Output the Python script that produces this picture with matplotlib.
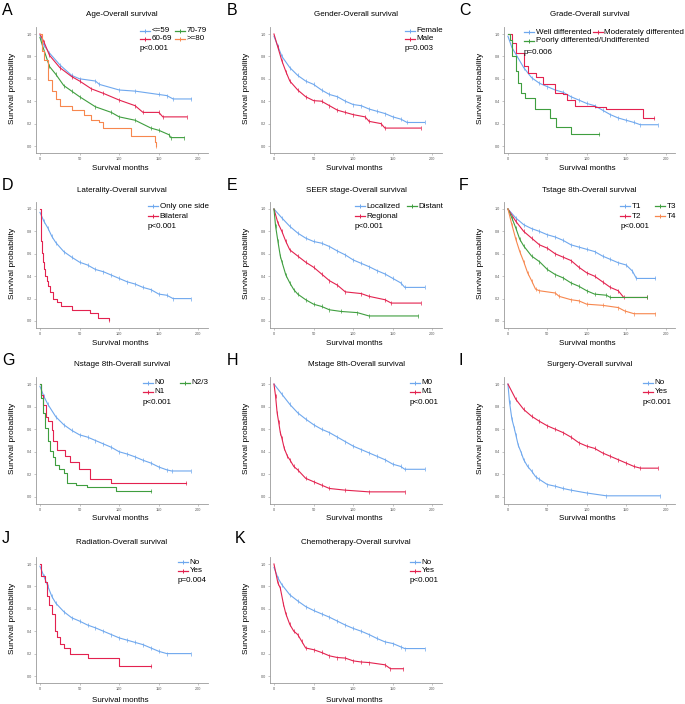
import matplotlib
matplotlib.use('Agg')
import matplotlib.pyplot as plt
from matplotlib.lines import Line2D

plt.rcParams['font.family'] = ['Liberation Sans', 'DejaVu Sans']

# ---------------- data ----------------
# A: Age
age_le59_t = [0, 5, 12, 25, 40, 50, 70, 75, 100, 120, 150, 160, 168, 191]
age_le59_s = [0.99, 0.90, 0.83, 0.725, 0.63, 0.60, 0.58, 0.55, 0.50, 0.49, 0.46, 0.45, 0.42, 0.42]
age_6069_t = [0, 5, 12, 25, 40, 50, 65, 80, 100, 120, 130, 150, 155, 185]
age_6069_s = [1.0, 0.93, 0.81, 0.70, 0.62, 0.58, 0.51, 0.47, 0.41, 0.36, 0.30, 0.30, 0.26, 0.26]
age_7079_t = [0, 3, 12, 20, 30, 40, 50, 70, 90, 100, 120, 140, 150, 163, 165, 182]
age_7079_s = [0.97, 0.90, 0.71, 0.64, 0.54, 0.49, 0.44, 0.35, 0.30, 0.26, 0.23, 0.16, 0.14, 0.10, 0.075, 0.075]
age_ge80_t = [0, 3, 5, 10, 15, 20, 25, 40, 55, 65, 75, 80, 110, 115, 140, 145, 147]
age_ge80_s = [1.0, 0.85, 0.77, 0.59, 0.49, 0.42, 0.36, 0.32, 0.28, 0.23, 0.21, 0.16, 0.16, 0.09, 0.085, 0.04, 0.0]

# B: Gender
female_t = [0, 5, 10, 20, 30, 40, 50, 60, 70, 80, 90, 100, 110, 120, 130, 140, 150, 160, 168, 190]
female_s = [0.98, 0.89, 0.80, 0.70, 0.63, 0.58, 0.55, 0.50, 0.46, 0.44, 0.40, 0.37, 0.36, 0.33, 0.31, 0.29, 0.26, 0.24, 0.21, 0.21]
male_t = [0, 5, 10, 15, 20, 30, 40, 50, 60, 70, 80, 90, 100, 115, 120, 135, 140, 185]
male_s = [1.0, 0.88, 0.76, 0.665, 0.58, 0.50, 0.44, 0.405, 0.40, 0.36, 0.32, 0.30, 0.28, 0.26, 0.22, 0.20, 0.16, 0.16]

# C: Grade
well_t = [0, 5, 10, 20, 30, 40, 50, 60, 70, 80, 90, 100, 110, 120, 130, 140, 150, 160, 168, 190]
well_s = [0.98, 0.88, 0.82, 0.70, 0.61, 0.56, 0.53, 0.50, 0.48, 0.44, 0.41, 0.38, 0.36, 0.32, 0.28, 0.25, 0.23, 0.21, 0.19, 0.19]
moderate_t = [0, 5, 10, 20, 25, 35, 45, 60, 70, 75, 85, 110, 125, 170, 172, 185]
moderate_s = [1.0, 0.92, 0.83, 0.71, 0.65, 0.62, 0.55, 0.47, 0.46, 0.41, 0.36, 0.35, 0.33, 0.33, 0.25, 0.25]
poorly_t = [0, 2, 5, 10, 13, 16, 22, 34, 54, 61, 80, 116]
poorly_s = [1.0, 0.95, 0.80, 0.67, 0.56, 0.47, 0.43, 0.33, 0.25, 0.17, 0.11, 0.11]

# D: Laterality
oneside_t = [0, 5, 10, 15, 20, 30, 40, 50, 60, 70, 80, 90, 100, 110, 120, 130, 140, 150, 160, 168, 190]
oneside_s = [0.97, 0.89, 0.83, 0.755, 0.70, 0.62, 0.57, 0.525, 0.50, 0.46, 0.44, 0.41, 0.38, 0.35, 0.33, 0.30, 0.28, 0.24, 0.23, 0.20, 0.20]
bilateral_t = [0, 0.8, 1.7, 2.5, 3.4, 4.6, 6.3, 8.8, 10.5, 12.6, 16.8, 21, 27, 40, 63, 73, 87]
bilateral_s = [1.0, 0.845, 0.71, 0.61, 0.53, 0.46, 0.40, 0.36, 0.31, 0.26, 0.20, 0.17, 0.13, 0.10, 0.07, 0.03, 0.01]

# E: SEER stage
localized_t = [0, 10, 20, 30, 40, 50, 60, 70, 80, 90, 100, 110, 120, 130, 140, 150, 160, 165, 190]
localized_s = [1.0, 0.92, 0.845, 0.785, 0.74, 0.71, 0.695, 0.665, 0.625, 0.59, 0.545, 0.515, 0.485, 0.45, 0.42, 0.38, 0.34, 0.30, 0.30]
regional_t = [0, 5, 10, 15, 20, 30, 40, 50, 60, 70, 80, 90, 110, 120, 140, 148, 185]
regional_s = [1.0, 0.875, 0.80, 0.71, 0.635, 0.58, 0.525, 0.48, 0.42, 0.36, 0.32, 0.26, 0.245, 0.22, 0.19, 0.16, 0.16]
distant_t = [0, 2, 5, 8, 10, 15, 20, 25, 30, 40, 50, 60, 70, 85, 105, 120, 182]
distant_s = [1.0, 0.85, 0.71, 0.58, 0.53, 0.41, 0.34, 0.28, 0.24, 0.19, 0.15, 0.13, 0.10, 0.085, 0.075, 0.045, 0.045]

# F: T stage
t1_t = [0, 10, 20, 30, 40, 50, 60, 70, 80, 90, 100, 110, 120, 130, 140, 150, 158, 163, 187]
t1_s = [1.0, 0.92, 0.86, 0.825, 0.80, 0.77, 0.75, 0.72, 0.68, 0.66, 0.64, 0.62, 0.58, 0.55, 0.52, 0.50, 0.445, 0.38, 0.38]
t2_t = [0, 10, 20, 30, 40, 50, 60, 70, 80, 90, 100, 110, 120, 130, 140, 147, 177]
t2_s = [1.0, 0.89, 0.80, 0.74, 0.68, 0.65, 0.60, 0.57, 0.54, 0.48, 0.43, 0.40, 0.35, 0.30, 0.27, 0.21, 0.21]
t3_t = [0, 5, 10, 15, 20, 30, 40, 50, 60, 70, 80, 90, 100, 110, 125, 130, 177]
t3_s = [1.0, 0.92, 0.83, 0.73, 0.67, 0.58, 0.53, 0.46, 0.415, 0.385, 0.34, 0.31, 0.27, 0.24, 0.23, 0.21, 0.21]
t4_t = [0, 5, 10, 15, 20, 25, 30, 35, 40, 60, 65, 80, 90, 100, 120, 140, 148, 160, 187]
t4_s = [1.0, 0.86, 0.73, 0.62, 0.53, 0.43, 0.36, 0.285, 0.27, 0.25, 0.22, 0.19, 0.18, 0.15, 0.14, 0.12, 0.09, 0.065, 0.065]

# G: N stage
n0_t = [0, 5, 10, 20, 30, 40, 50, 60, 70, 80, 90, 100, 110, 120, 130, 140, 150, 160, 166, 190]
n0_s = [0.98, 0.89, 0.82, 0.71, 0.64, 0.59, 0.55, 0.53, 0.50, 0.47, 0.44, 0.40, 0.38, 0.355, 0.325, 0.30, 0.265, 0.24, 0.23, 0.23]
n1_t = [0, 0.8, 4.2, 7.5, 10.5, 14.7, 16.8, 21.8, 31.4, 37.7, 49.5, 63.7, 89.3, 184.5]
n1_s = [1.0, 0.905, 0.815, 0.71, 0.67, 0.595, 0.50, 0.42, 0.36, 0.31, 0.245, 0.16, 0.12, 0.12]
n23_t = [0, 0.8, 3.4, 6.3, 9.6, 12.6, 16, 19, 24.3, 30.2, 33.5, 46, 59.5, 96.4, 140.5]
n23_s = [1.0, 0.875, 0.74, 0.61, 0.50, 0.41, 0.35, 0.28, 0.25, 0.21, 0.12, 0.105, 0.085, 0.055, 0.055]

# H: M stage
m0_t = [0, 10, 20, 30, 40, 50, 60, 70, 80, 90, 100, 110, 120, 130, 140, 150, 160, 165, 190]
m0_s = [1.0, 0.91, 0.82, 0.745, 0.69, 0.64, 0.60, 0.57, 0.53, 0.49, 0.45, 0.42, 0.39, 0.36, 0.33, 0.29, 0.27, 0.245, 0.245]
m1_t = [0, 2, 4, 6, 8, 10, 13, 17, 20, 25, 30, 40, 50, 60, 70, 90, 120, 165]
m1_s = [1.0, 0.895, 0.745, 0.66, 0.57, 0.52, 0.43, 0.36, 0.33, 0.27, 0.24, 0.165, 0.135, 0.105, 0.075, 0.06, 0.045, 0.045]

# I: Surgery
surg_no_t = [0, 2, 5, 8, 10, 13, 17, 20, 25, 30, 35, 40, 50, 60, 70, 80, 100, 125, 193]
surg_no_s = [1.0, 0.84, 0.69, 0.61, 0.55, 0.46, 0.39, 0.33, 0.27, 0.23, 0.18, 0.155, 0.11, 0.095, 0.075, 0.06, 0.035, 0.01, 0.01]
surg_yes_t = [0, 10, 20, 30, 40, 50, 60, 70, 80, 90, 100, 110, 120, 130, 140, 150, 160, 168, 190]
surg_yes_s = [1.0, 0.865, 0.775, 0.715, 0.67, 0.63, 0.60, 0.57, 0.53, 0.48, 0.45, 0.43, 0.39, 0.36, 0.33, 0.30, 0.27, 0.255, 0.255]

# J: Radiation
rad_no_t = [0, 5, 10, 15, 20, 30, 40, 50, 60, 70, 80, 90, 100, 110, 120, 130, 140, 150, 160, 190]
rad_no_s = [0.98, 0.89, 0.80, 0.71, 0.65, 0.575, 0.52, 0.49, 0.455, 0.43, 0.40, 0.37, 0.34, 0.32, 0.30, 0.28, 0.25, 0.22, 0.20, 0.20]
rad_yes_t = [0, 1.7, 6.3, 8.4, 11.3, 14.7, 18.9, 21, 25, 30, 37.7, 60.8, 99.4, 140.5]
rad_yes_s = [1.0, 0.89, 0.84, 0.71, 0.63, 0.55, 0.40, 0.35, 0.29, 0.25, 0.20, 0.165, 0.085, 0.085]

# K: Chemotherapy
chemo_no_t = [0, 5, 10, 20, 30, 40, 50, 60, 70, 80, 90, 100, 110, 120, 130, 140, 150, 160, 165, 190]
chemo_no_s = [0.97, 0.875, 0.815, 0.725, 0.67, 0.62, 0.585, 0.555, 0.525, 0.49, 0.455, 0.425, 0.40, 0.37, 0.335, 0.305, 0.29, 0.26, 0.245, 0.245]
chemo_yes_t = [0, 5, 8, 12, 15, 20, 25, 30, 35, 40, 50, 60, 70, 80, 90, 100, 110, 120, 140, 147, 163]
chemo_yes_s = [1.0, 0.83, 0.785, 0.64, 0.555, 0.46, 0.40, 0.37, 0.31, 0.25, 0.235, 0.21, 0.18, 0.165, 0.16, 0.135, 0.125, 0.12, 0.10, 0.065, 0.065]

titles = ["Age-Overall survival", "Gender-Overall survival", "Grade-Overall survival",
          "Laterality-Overall survival", "SEER stage-Overall survival", "Tstage 8th-Overall survival",
          "Nstage 8th-Overall survival", "Mstage 8th-Overall survival", "Surgery-Overall survival",
          "Radiation-Overall survival", "Chemotherapy-Overall survival"]
letters = ["A", "B", "C", "D", "E", "F", "G", "H", "I", "J", "K"]
pvalues = ["p<0.001", "p=0.003", "p=0.006", "p<0.001", "p<0.001", "p<0.001",
           "p<0.001", "p<0.001", "p<0.001", "p=0.004", "p<0.001"]
xticks = [0, 50, 100, 150, 200]
yticks = [0.0, 0.2, 0.4, 0.6, 0.8, 1.0]
ytick_labels = ["0.0", "0.2", "0.4", "0.6", "0.8", "1.0"]

# ---------------- styling ----------------
BLUE = '#6fa8ee'
RED = '#e3224f'
GREEN = '#3f9e3f'
ORANGE = '#f7874e'

W, H = 685, 704
fig = plt.figure(figsize=(W / 100, H / 100), dpi=100)

col_left = [36, 270, 504]
col_right = [208, 442, 675]
row_top = [27, 202, 377, 557]
row_bot = [153, 328, 504, 683]
title_y = [15, 190, 365, 542]
xlabel_y = [168, 343, 519, 700]

# each curve: (label, t, s, color, stepped)
panels = [
    [("<=59", age_le59_t, age_le59_s, BLUE, False), ("60-69", age_6069_t, age_6069_s, RED, False),
     ("70-79", age_7079_t, age_7079_s, GREEN, False), (">=80", age_ge80_t, age_ge80_s, ORANGE, True)],
    [("Female", female_t, female_s, BLUE, False), ("Male", male_t, male_s, RED, False)],
    [("Well differented", well_t, well_s, BLUE, False), ("Moderately differented", moderate_t, moderate_s, RED, True),
     ("Poorly differented/Undifferented", poorly_t, poorly_s, GREEN, True)],
    [("Only one side", oneside_t, oneside_s, BLUE, False), ("Bilateral", bilateral_t, bilateral_s, RED, True)],
    [("Localized", localized_t, localized_s, BLUE, False), ("Regional", regional_t, regional_s, RED, False),
     ("Distant", distant_t, distant_s, GREEN, False)],
    [("T1", t1_t, t1_s, BLUE, False), ("T2", t2_t, t2_s, RED, False),
     ("T3", t3_t, t3_s, GREEN, False), ("T4", t4_t, t4_s, ORANGE, False)],
    [("N0", n0_t, n0_s, BLUE, False), ("N1", n1_t, n1_s, RED, True), ("N2/3", n23_t, n23_s, GREEN, True)],
    [("M0", m0_t, m0_s, BLUE, False), ("M1", m1_t, m1_s, RED, False)],
    [("No", surg_no_t, surg_no_s, BLUE, False), ("Yes", surg_yes_t, surg_yes_s, RED, False)],
    [("No", rad_no_t, rad_no_s, BLUE, False), ("Yes", rad_yes_t, rad_yes_s, RED, True)],
    [("No", chemo_no_t, chemo_no_s, BLUE, False), ("Yes", chemo_yes_t, chemo_yes_s, RED, False)],
]

# legend layout per panel: list of (x_px, y_px) for each curve entry, and p-value position
legend_pos = [
    ([(140, 31), (140, 39), (175, 31), (175, 39)], (140, 49)),
    ([(405, 31), (405, 39)], (405, 49)),
    ([(524, 32), (593, 32), (524, 41)], (524, 52)),
    ([(148, 206), (148, 216)], (148, 226)),
    ([(355, 206), (355, 216), (407, 206)], (355, 226)),
    ([(620, 206), (620, 216), (655, 206), (655, 216)], (621, 226)),
    ([(143, 383), (143, 392), (180, 383)], (143, 402)),
    ([(410, 383), (410, 392)], (410, 402)),
    ([(643, 383), (643, 392)], (643, 402)),
    ([(178, 562), (178, 571)], (178, 581)),
    ([(410, 562), (410, 571)], (410, 581)),
]
letter_pos = [(2, 3), (227, 3), (459, 3), (2, 178), (227, 178), (459, 178),
              (2, 353), (227, 353), (459, 353), (2, 531), (235, 531)]

FS = 5.8


def fx(x):
    return x / W


def fy(y):
    return 1 - y / H


for i in range(11):
    r, c = divmod(i, 3)
    l, rgt, t, b = col_left[c], col_right[c], row_top[r], row_bot[r]
    ax = fig.add_axes([fx(l), fy(b), (rgt - l) / W, (b - t) / H])
    ax.set_xlim(-5, 212)
    ax.set_ylim(-0.0625, 1.0625)
    for sp in ['top', 'right']:
        ax.spines[sp].set_visible(False)
    for sp in ['left', 'bottom']:
        ax.spines[sp].set_color('#9a9a9a')
        ax.spines[sp].set_linewidth(0.6)
    ax.set_xticks(xticks)
    ax.set_xticklabels([str(v) for v in xticks])
    ax.set_yticks(yticks)
    ax.set_yticklabels(ytick_labels)
    ax.tick_params(labelsize=2.7, length=1.2, width=0.4, colors='#9a9a9a',
                   labelcolor='#555555', pad=1.5)
    ax.patch.set_visible(False)

    for (lab, tt, ss, col, stepped) in panels[i]:
        if stepped:
            ax.plot(tt, ss, drawstyle='steps-post', color=col, lw=0.8)
            ax.plot(tt[-1:], ss[-1:], ls='none', marker='|', ms=2.2, mew=0.5, color=col)
        else:
            ax.plot(tt, ss, color=col, lw=0.8)
            ax.plot(tt[1:], ss[1:], ls='none', marker='|', ms=2.2, mew=0.5, color=col)

    # title
    fig.text(fx((l + rgt) / 2), fy(title_y[r]), titles[i], ha='center', va='center', fontsize=FS)
    # axis labels
    fig.text(fx(l - 24), fy((t + b) / 2 - 2), "Survival probability", rotation=90,
             ha='center', va='center', fontsize=FS + 0.2)
    fig.text(fx((l + rgt) / 2 - 2), fy(xlabel_y[r]), "Survival months", ha='center', va='center', fontsize=FS)
    # letter
    lx, ly = letter_pos[i]
    fig.text(fx(lx), fy(ly), letters[i], ha='left', va='top', fontsize=11.5)

    # legend
    entries, ppos = legend_pos[i]
    for (lab, tt, ss, col, stepped), (x0, y0) in zip(panels[i], entries):
        fig.add_artist(Line2D([fx(x0), fx(x0 + 10)], [fy(y0), fy(y0)], transform=fig.transFigure,
                              color=col, lw=0.9))
        fig.add_artist(Line2D([fx(x0 + 5)], [fy(y0)], transform=fig.transFigure, color=col,
                              marker='|', ms=2.5, mew=0.7, ls='none'))
        fig.text(fx(x0 + 11.5), fy(y0), lab, ha='left', va='center', fontsize=FS)
    fig.text(fx(ppos[0]), fy(ppos[1]), pvalues[i], ha='left', va='center', fontsize=FS)

fig.savefig('out.png', dpi=100)
